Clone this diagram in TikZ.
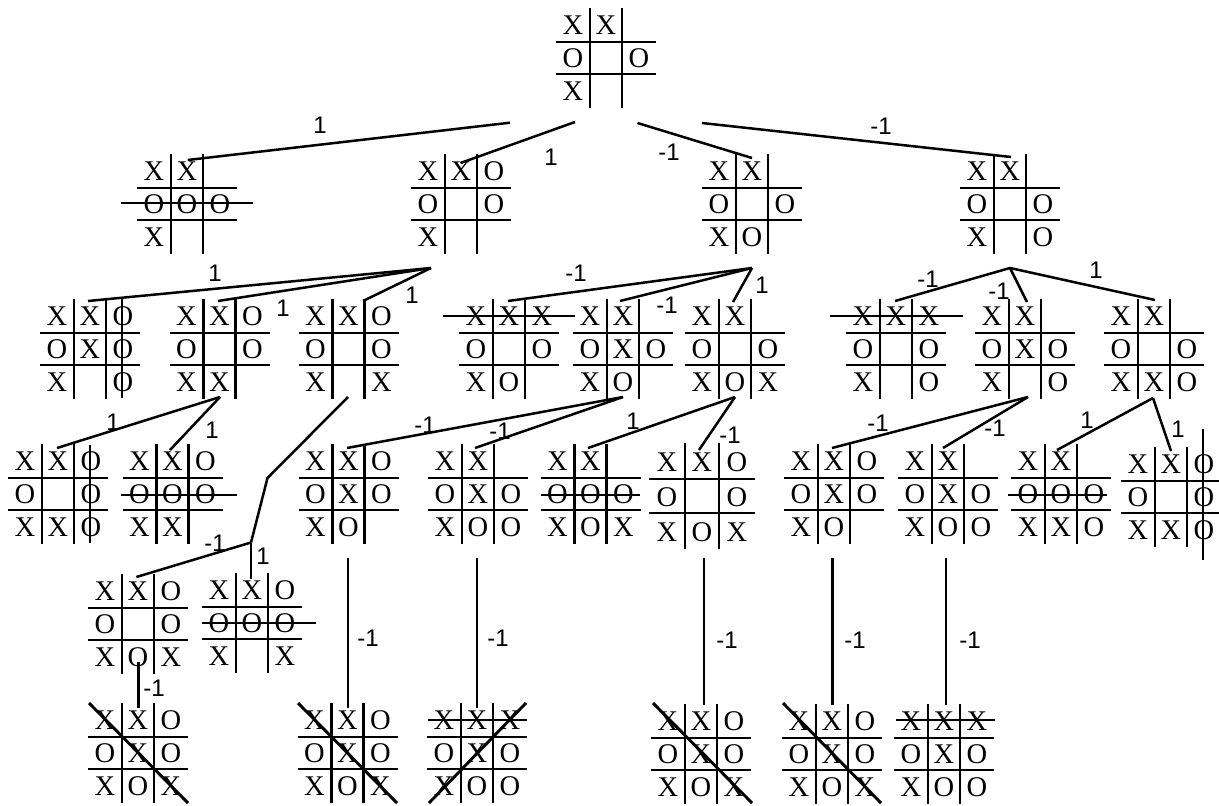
\documentclass[tikz,border=0pt]{standalone}
\usepackage{fontspec}
\setmainfont{Liberation Serif}
\newfontfamily\lblfont{Liberation Sans}
\tikzset{
  gridl/.style={line width=2.9pt},
  edge/.style={line width=2.5pt},
  strike/.style={line width=2.9pt},
  cellt/.style={inner sep=0pt, anchor=base, font=\fontsize{28.5}{28.5}\selectfont},
  lbl/.style={inner sep=0pt, font=\lblfont\fontsize{24}{24}\selectfont},
}
\newcommand\tbcell[4]{\if#4-\else\node[cellt] (#1) at (#2,#3) {#4};\fi}
\newcommand\tbrow[6]{\tbcell{#1-#2a}{-33}{#3}{#4}\tbcell{#1-#2b}{0}{#3}{#5}\tbcell{#1-#2c}{33}{#3}{#6}}
\newcommand\tb[7][1]{%
 \begin{scope}[shift={(#3,#4)}, scale=#1]
  \draw[gridl] (-16,-50) -- (-16,50) (16,-50) -- (16,50) (-50,-16) -- (50,-16) (-50,16) -- (50,16);
  \tbrow{#2}{1}{-23.5}#5
  \tbrow{#2}{2}{9.5}#6
  \tbrow{#2}{3}{42.5}#7
 \end{scope}}
\begin{document}
\begin{tikzpicture}[x=1pt,y=-1pt]
\useasboundingbox (0,0) rectangle (1219,806);
\clip (0,0) rectangle (1219,806);
% boards
\tb{R0}{606}{58}{XX-}{O-O}{X--}
\tb{L1a}{187}{204}{XX-}{OOO}{X--}
\tb{L1b}{461}{204}{XXO}{O-O}{X--}
\tb{L1c}{752}{204}{XX-}{O-O}{XO-}
\tb{L1d}{1010}{204}{XX-}{O-O}{X-O}
\tb{A}{90}{349}{XXO}{OXO}{X-O}
\tb{B}{219.5}{349}{XXO}{O-O}{XX-}
\tb{C}{348.5}{349}{XXO}{O-O}{X-X}
\tb{D}{509}{349}{XXX}{O-O}{XO-}
\tb{E}{623}{349}{XX-}{OXO}{XO-}
\tb{F}{735}{349}{XX-}{O-O}{XOX}
\tb{G}{896}{349}{XXX}{O-O}{X-O}
\tb{H}{1025}{349}{XX-}{OXO}{X-O}
\tb{I}{1154}{349}{XX-}{O-O}{XXO}
\tb{J}{58}{494}{XXO}{O-O}{XXO}
\tb{K}{172.5}{494}{XXO}{OOO}{XX-}
\tb{L}{348.5}{494}{XXO}{OXO}{XO-}
\tb{M}{478}{494}{XX-}{OXO}{XOO}
\tb{N}{590.5}{494}{XX-}{OOO}{XOX}
\tb[1.06]{O}{702}{496}{XXO}{O-O}{XOX}
\tb{P}{834}{494}{XXO}{OXO}{XO-}
\tb{Q}{948}{494}{XX-}{OXO}{XOO}
\tb{R}{1061}{494}{XX-}{OOO}{XXO}
\tb{S}{1171}{497}{XXO}{O-O}{XXO}
\tb{T}{138}{624}{XXO}{O-O}{XOX}
\tb{U}{252}{623}{XXO}{OOO}{X-X}
\tb{V}{138}{753}{XXO}{OXO}{XOX}
\tb{W}{347.5}{753}{XXO}{OXO}{XOX}
\tb{X}{477}{753}{XXX}{OXO}{XOO}
\tb{Y}{701}{754}{XXO}{OXO}{XOX}
\tb{Z}{832}{754}{XXO}{OXO}{XOX}
\tb{AA}{944}{754}{XXX}{OXO}{XOO}
% win strikes
\draw[strike] (120.5,203) -- (253,203);
\draw[strike] (122,298) -- (122,398);
\draw[strike] (443,316) -- (575,316);
\draw[strike] (830,316) -- (963,316);
\draw[strike] (90,445) -- (90,543);
\draw[strike] (120.7,495) -- (236.7,495);
\draw[strike] (540.7,495) -- (640,495);
\draw[strike] (1008,495) -- (1107,495);
\draw[strike] (1203,429) -- (1203,560);
\draw[strike] (201.6,623) -- (316,623);
\draw[strike] (89,703) -- (188,803);
\draw[strike] (298,703) -- (397,803);
\draw[strike] (427.7,720) -- (526.5,720);
\draw[strike] (526,703) -- (429,803);
\draw[strike] (653,703) -- (752,803);
\draw[strike] (783,703) -- (881,803);
\draw[strike] (896,720) -- (995,720);
% connector points
\coordinate (R-o1) at (510,122.7);
\coordinate (R-o2) at (575,122);
\coordinate (R-o3) at (637.5,123);
\coordinate (R-o4) at (702,123);
\coordinate (L1a-in) at (187.7,160);
\coordinate (L1b-in) at (460.5,163);
\coordinate (L1c-in) at (752,158);
\coordinate (L1d-in) at (1011,157);
\coordinate (L1b-out) at (431,268);
\coordinate (L1c-out) at (752,268);
\coordinate (L1d-out) at (1010,268);
\coordinate (A-in) at (88,301);
\coordinate (B-in) at (218,301);
\coordinate (C-in) at (363,301);
\coordinate (D-in) at (508,301);
\coordinate (E-in) at (620,301);
\coordinate (F-in) at (733,302);
\coordinate (G-in) at (895,301);
\coordinate (H-in) at (1027,302);
\coordinate (I-in) at (1155,300);
\coordinate (B-out) at (220,397);
\coordinate (C-out) at (348,397);
\coordinate (C-bend1) at (267.5,478);
\coordinate (C-bend2) at (251,542.5);
\coordinate (E-out) at (623,397);
\coordinate (F-out) at (735,397);
\coordinate (H-out) at (1028,397);
\coordinate (I-out) at (1153,398);
\coordinate (J-in) at (57,448);
\coordinate (K-in) at (170,450);
\coordinate (L-in) at (347,448);
\coordinate (M-in) at (475,448);
\coordinate (N-in) at (588,448);
\coordinate (O-in) at (699,450);
\coordinate (P-in) at (832,448);
\coordinate (Q-in) at (943,448);
\coordinate (R-in) at (1057,450);
\coordinate (S-in) at (1171,451);
\coordinate (T-in) at (136.4,577);
\coordinate (U-in) at (251,579);
\coordinate (T-out) at (138.3,662);
\coordinate (V-in) at (138.3,708);
\coordinate (L-out) at (348,558);
\coordinate (W-in) at (348,708);
\coordinate (M-out) at (477,558);
\coordinate (X-in) at (477,708);
\coordinate (O-out) at (704,558);
\coordinate (Y-in) at (704,705);
\coordinate (P-out) at (832.4,558);
\coordinate (Z-in) at (832.4,705);
\coordinate (Q-out) at (946,558);
\coordinate (AA-in) at (946,705);
% connectors
\draw[edge] (R-o1) -- (L1a-in);
\draw[edge] (R-o2) -- (L1b-in);
\draw[edge] (R-o3) -- (L1c-in);
\draw[edge] (R-o4) -- (L1d-in);
\draw[edge] (L1b-out) -- (A-in);
\draw[edge] (L1b-out) -- (B-in);
\draw[edge] (L1b-out) -- (C-in);
\draw[edge] (L1c-out) -- (D-in);
\draw[edge] (L1c-out) -- (E-in);
\draw[edge] (L1c-out) -- (F-in);
\draw[edge] (L1d-out) -- (G-in);
\draw[edge] (L1d-out) -- (H-in);
\draw[edge] (L1d-out) -- (I-in);
\draw[edge] (B-out) -- (J-in);
\draw[edge] (B-out) -- (K-in);
\draw[edge] (C-out) -- (C-bend1) -- (C-bend2);
\draw[edge] (C-bend2) -- (T-in);
\draw[edge] (C-bend2) -- (U-in);
\draw[edge] (E-out) -- (L-in);
\draw[edge] (E-out) -- (M-in);
\draw[edge] (F-out) -- (N-in);
\draw[edge] (F-out) -- (O-in);
\draw[edge] (H-out) -- (P-in);
\draw[edge] (H-out) -- (Q-in);
\draw[edge] (I-out) -- (R-in);
\draw[edge] (I-out) -- (S-in);
\draw[edge] (T-out) -- (V-in);
\draw[edge] (L-out) -- (W-in);
\draw[edge] (M-out) -- (X-in);
\draw[edge] (O-out) -- (Y-in);
\draw[edge] (P-out) -- (Z-in);
\draw[edge] (Q-out) -- (AA-in);
% labels
\node[lbl] (l1) at (320,125) {1};
\node[lbl] (l2) at (551,157) {1};
\node[lbl] (l3) at (669,152) {-1};
\node[lbl] (l4) at (881,126) {-1};
\node[lbl] (l5) at (215,273) {1};
\node[lbl] (l6) at (283,308) {1};
\node[lbl] (l7) at (412,295) {1};
\node[lbl] (l8) at (576,273) {-1};
\node[lbl] (l9) at (667,305) {-1};
\node[lbl] (l10) at (762,285) {1};
\node[lbl] (l11) at (928,279) {-1};
\node[lbl] (l12) at (999,291) {-1};
\node[lbl] (l13) at (1096,270) {1};
\node[lbl] (l14) at (113,422) {1};
\node[lbl] (l15) at (212,430) {1};
\node[lbl] (l16) at (425,425) {-1};
\node[lbl] (l17) at (500,431) {-1};
\node[lbl] (l18) at (633,421) {1};
\node[lbl] (l19) at (730,435) {-1};
\node[lbl] (l20) at (878,423) {-1};
\node[lbl] (l21) at (995,428) {-1};
\node[lbl] (l22) at (1087,420) {1};
\node[lbl] (l23) at (1178,429) {1};
\node[lbl] (l24) at (215,543) {-1};
\node[lbl] (l25) at (263,556) {1};
\node[lbl] (l26) at (154,688) {-1};
\node[lbl] (l27) at (368,638) {-1};
\node[lbl] (l28) at (498,638) {-1};
\node[lbl] (l29) at (727,640) {-1};
\node[lbl] (l30) at (855,640) {-1};
\node[lbl] (l31) at (970,640) {-1};
\end{tikzpicture}
\end{document}
